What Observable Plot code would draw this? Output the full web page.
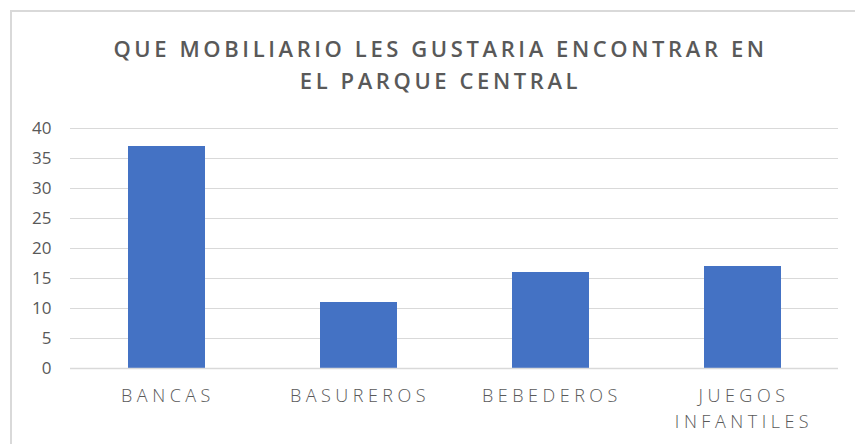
<!DOCTYPE html>
<html>
<head>
<meta charset="utf-8">
<script src="https://cdn.jsdelivr.net/npm/d3@7"></script>
<script src="https://cdn.jsdelivr.net/npm/@observablehq/plot@0.6"></script>
<style>
  html, body { margin: 0; padding: 0; background: #fff; overflow: hidden; }
  #wrap { position: relative; width: 855px; height: 444px; overflow: hidden; }
  #frame { position: absolute; left: 10px; top: 10px; width: 900px; height: 500px; border: 2px solid #d9d9d9; }
  #title { position: absolute; left: 0; top: 32px; width: 855px; padding-left: 26px; box-sizing: border-box;
           text-align: center; font-family: "Open Sans", sans-serif; font-weight: 600; font-size: 22px;
           letter-spacing: 3.6px; line-height: 32px; color: #595959; }
  #chart { position: absolute; left: 0; top: 100px; }
  #chart g[aria-label="x-axis tick label"] text { letter-spacing: 4.5px; font-weight: 300; }
  #chart g[aria-label="y-axis tick label"] text { font-weight: 400; }
</style>
</head>
<body>
<div id="wrap">
  <div id="frame"></div>
  <div id="title">QUE MOBILIARIO LES GUSTARIA ENCONTRAR EN<br>EL PARQUE CENTRAL</div>
  <div id="chart"></div>
</div>
<script>
const categories = ["BANCAS", "BASUREROS", "BEBEDEROS", "JUEGOS INFANTILES"];
const values = [37, 11, 16, 17];
const yTicks = [0, 5, 10, 15, 20, 25, 30, 35, 40];

const data = categories.map((c, i) => ({category: c, value: values[i]}));

const chart = Plot.plot({
  width: 855,
  height: 344,
  marginLeft: 70,
  marginRight: 17,
  marginTop: 28,
  marginBottom: 76,
  style: {fontFamily: "'Open Sans', sans-serif", background: "transparent", overflow: "visible"},
  x: {domain: categories, paddingInner: 0.6, paddingOuter: 0.3, label: null},
  y: {domain: [0, 40], label: null},
  marks: [
    Plot.gridY(yTicks, {stroke: "#d9d9d9", strokeOpacity: 1, strokeWidth: 1}),
    Plot.barY(data, {x: "category", y: "value", fill: "#4472C4"}),
    Plot.ruleY([0], {stroke: "#d9d9d9", strokeWidth: 1.5}),
    Plot.axisY(yTicks, {tickSize: 0, tickPadding: 19, fontSize: 17, fill: "#595959", label: null}),
    Plot.axisX({tickSize: 0, tickPadding: 15, fontSize: 18, fill: "#595959", label: null, lineHeight: 1.45,
                dx: 1,
                tickFormat: d => d === "JUEGOS INFANTILES" ? "JUEGOS\nINFANTILES" : d})
  ]
});
document.getElementById("chart").appendChild(chart);
</script>
</body>
</html>
